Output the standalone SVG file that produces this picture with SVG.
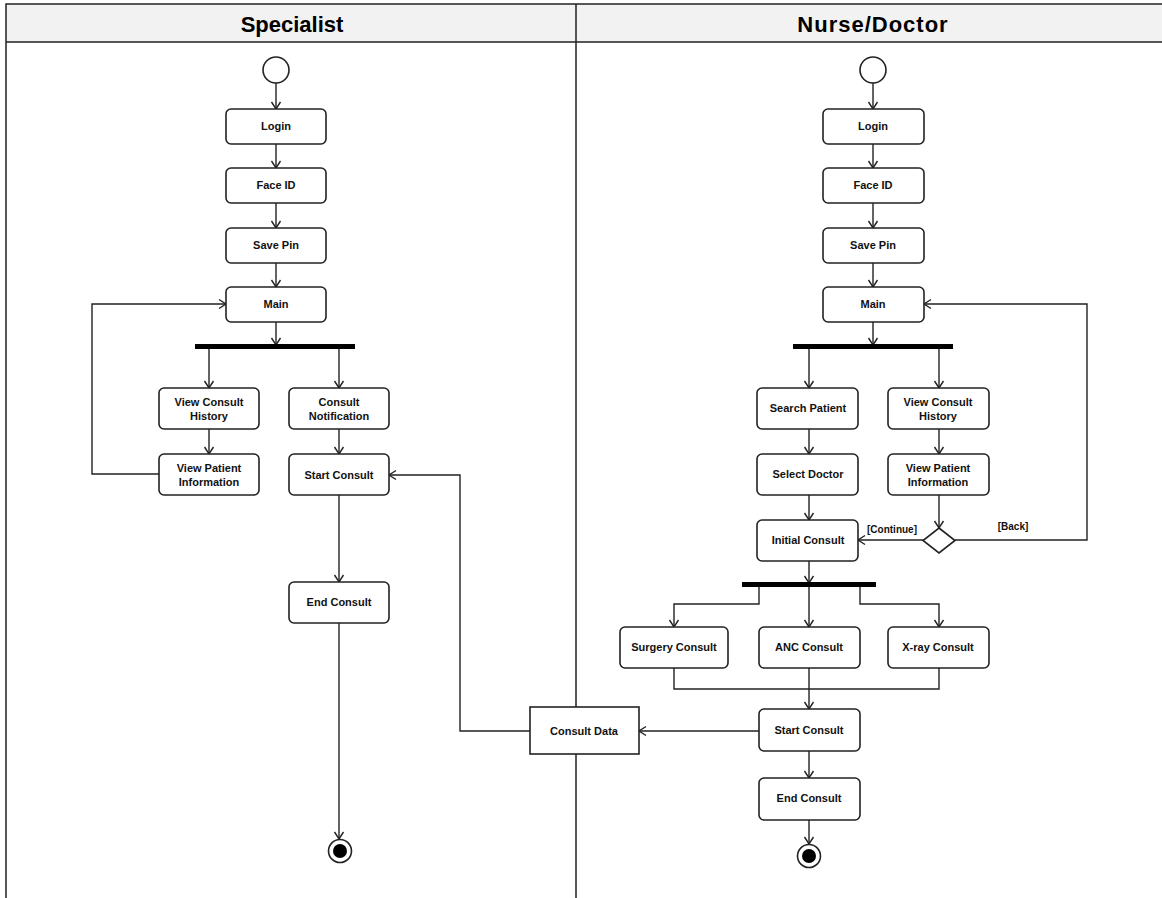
<svg xmlns="http://www.w3.org/2000/svg" width="1162" height="898" viewBox="0 0 1162 898">
<style>
.frame{fill:none;stroke:#222;stroke-width:1.5}
.hdr{fill:#f2f2f2;stroke:none}
.title{font-family:"Liberation Sans",Arial,sans-serif;font-weight:bold;font-size:22px;fill:#000;text-anchor:middle}
.act{fill:#fff;stroke:#222;stroke-width:1.6}
.lbl{font-family:"Liberation Sans",Arial,sans-serif;font-weight:bold;font-size:11px;fill:#111;text-anchor:middle}
.guard{font-family:"Liberation Sans",Arial,sans-serif;font-weight:bold;font-size:10px;fill:#111;text-anchor:middle}
.bar{fill:#000}
.edge{fill:none;stroke:#222;stroke-width:1.4}
.arr{marker-end:url(#ah)}
</style>
<defs>
<marker id="ah" markerUnits="userSpaceOnUse" markerWidth="12" markerHeight="12" refX="9" refY="6" orient="auto">
<path d="M2,1.5 L9,6 L2,10.5" fill="none" stroke="#222" stroke-width="1.4"/>
</marker>
</defs>
<rect width="1162" height="898" fill="#fff"/>
<g id="lanes">
<rect class="hdr" x="6" y="4" width="1156" height="38"/>
<path class="frame" d="M6,898 V4 H1162 M6,42 H1162 M576,4 V898"/>
<text class="title" x="292" y="32">Specialist</text>
<text class="title" x="873" y="32" letter-spacing="1">Nurse/Doctor</text>
</g>
<g id="connectors">
<path class="edge arr" d="M276,83 V109"/>
<path class="edge arr" d="M276,144 V168"/>
<path class="edge arr" d="M276,203 V228"/>
<path class="edge arr" d="M276,263 V287"/>
<path class="edge arr" d="M276,322 V345"/>
<path class="edge arr" d="M209,348 V388"/>
<path class="edge arr" d="M339,348 V388"/>
<path class="edge arr" d="M209,429 V454"/>
<path class="edge arr" d="M339,429 V454"/>
<path class="edge arr" d="M159,474 H92 V304 H226"/>
<path class="edge arr" d="M339,495 V582"/>
<path class="edge arr" d="M339,623 V839"/>
<path class="edge arr" d="M530,731 H460 V475 H389"/>
<path class="edge arr" d="M759,731 H639"/>
<path class="edge arr" d="M873,83 V109"/>
<path class="edge arr" d="M873,144 V168"/>
<path class="edge arr" d="M873,203 V228"/>
<path class="edge arr" d="M873,263 V287"/>
<path class="edge arr" d="M873,322 V345"/>
<path class="edge arr" d="M809,348 V388"/>
<path class="edge arr" d="M939,348 V388"/>
<path class="edge arr" d="M809,429 V454"/>
<path class="edge arr" d="M939,429 V454"/>
<path class="edge arr" d="M809,495 V520"/>
<path class="edge arr" d="M939,495 V528"/>
<path class="edge arr" d="M923,540 H858"/>
<path class="edge arr" d="M955,540 H1087 V304 H924"/>
<path class="edge arr" d="M809,561 V583"/>
<path class="edge arr" d="M759,586 V604 H674 V627"/>
<path class="edge arr" d="M809,586 V627"/>
<path class="edge arr" d="M860,586 V604 H939 V627"/>
<path class="edge" d="M674,668 V689 H939 V668"/>
<path class="edge arr" d="M809,668 V709"/>
<path class="edge arr" d="M809,751 V778"/>
<path class="edge arr" d="M809,820 V844"/>
<text class="guard" x="892" y="533">[Continue]</text>
<text class="guard" x="1013" y="530">[Back]</text>
</g>
<g id="sp-start"><circle cx="276" cy="70" r="13" class="act"/></g>
<g id="sp-login"><rect class="act" x="226" y="109" width="100" height="35" rx="5"/><text class="lbl" x="276" y="130">Login</text></g>
<g id="sp-faceid"><rect class="act" x="226" y="168" width="100" height="35" rx="5"/><text class="lbl" x="276" y="189">Face ID</text></g>
<g id="sp-savepin"><rect class="act" x="226" y="228" width="100" height="35" rx="5"/><text class="lbl" x="276" y="249">Save Pin</text></g>
<g id="sp-main"><rect class="act" x="226" y="287" width="100" height="35" rx="5"/><text class="lbl" x="276" y="308">Main</text></g>
<g id="sp-fork"><rect class="bar" x="195" y="344" width="160" height="5"/></g>
<g id="sp-vch"><rect class="act" x="159" y="388" width="100" height="41" rx="5"/><text class="lbl" x="209" y="406">View Consult</text><text class="lbl" x="209" y="420">History</text></g>
<g id="sp-cn"><rect class="act" x="289" y="388" width="100" height="41" rx="5"/><text class="lbl" x="339" y="406">Consult</text><text class="lbl" x="339" y="420">Notification</text></g>
<g id="sp-vpi"><rect class="act" x="159" y="454" width="100" height="41" rx="5"/><text class="lbl" x="209" y="472">View Patient</text><text class="lbl" x="209" y="486">Information</text></g>
<g id="sp-start-consult"><rect class="act" x="289" y="454" width="100" height="41" rx="5"/><text class="lbl" x="339" y="479">Start Consult</text></g>
<g id="sp-end-consult"><rect class="act" x="289" y="582" width="100" height="41" rx="5"/><text class="lbl" x="339" y="606">End Consult</text></g>
<g id="sp-final"><circle cx="340" cy="851" r="11.5" fill="#fff" stroke="#222" stroke-width="1.6"/><circle cx="340" cy="851" r="7" fill="#000"/></g>
<g id="consult-data"><rect class="act" x="530" y="707" width="109" height="47"/><text class="lbl" x="584" y="735">Consult Data</text></g>
<g id="nd-start"><circle cx="873" cy="70" r="13" class="act"/></g>
<g id="nd-login"><rect class="act" x="823" y="109" width="101" height="35" rx="5"/><text class="lbl" x="873" y="130">Login</text></g>
<g id="nd-faceid"><rect class="act" x="823" y="168" width="101" height="35" rx="5"/><text class="lbl" x="873" y="189">Face ID</text></g>
<g id="nd-savepin"><rect class="act" x="823" y="228" width="101" height="35" rx="5"/><text class="lbl" x="873" y="249">Save Pin</text></g>
<g id="nd-main"><rect class="act" x="823" y="287" width="101" height="35" rx="5"/><text class="lbl" x="873" y="308">Main</text></g>
<g id="nd-fork"><rect class="bar" x="793" y="344" width="160" height="5"/></g>
<g id="nd-search"><rect class="act" x="757" y="388" width="101" height="41" rx="5"/><text class="lbl" x="808" y="412">Search Patient</text></g>
<g id="nd-vch"><rect class="act" x="888" y="388" width="101" height="41" rx="5"/><text class="lbl" x="938" y="406">View Consult</text><text class="lbl" x="938" y="420">History</text></g>
<g id="nd-select"><rect class="act" x="757" y="454" width="101" height="41" rx="5"/><text class="lbl" x="808" y="478">Select Doctor</text></g>
<g id="nd-vpi"><rect class="act" x="888" y="454" width="101" height="41" rx="5"/><text class="lbl" x="938" y="472">View Patient</text><text class="lbl" x="938" y="486">Information</text></g>
<g id="nd-initial"><rect class="act" x="757" y="520" width="101" height="41" rx="5"/><text class="lbl" x="808" y="544">Initial Consult</text></g>
<g id="nd-decision"><path class="act" d="M939,528 L955,540.5 L939,553 L923,540.5 Z"/></g>
<g id="nd-fork2"><rect class="bar" x="742" y="582" width="134" height="5"/></g>
<g id="nd-surgery"><rect class="act" x="620" y="627" width="108" height="41" rx="5"/><text class="lbl" x="674" y="651">Surgery Consult</text></g>
<g id="nd-anc"><rect class="act" x="759" y="627" width="101" height="41" rx="5"/><text class="lbl" x="809" y="651">ANC Consult</text></g>
<g id="nd-xray"><rect class="act" x="888" y="627" width="101" height="41" rx="5"/><text class="lbl" x="938" y="651">X-ray Consult</text></g>
<g id="nd-start-consult"><rect class="act" x="759" y="709" width="101" height="42" rx="5"/><text class="lbl" x="809" y="734">Start Consult</text></g>
<g id="nd-end-consult"><rect class="act" x="759" y="778" width="101" height="42" rx="5"/><text class="lbl" x="809" y="802">End Consult</text></g>
<g id="nd-final"><circle cx="809" cy="856" r="11.5" fill="#fff" stroke="#222" stroke-width="1.6"/><circle cx="809" cy="856" r="7" fill="#000"/></g>
</svg>
